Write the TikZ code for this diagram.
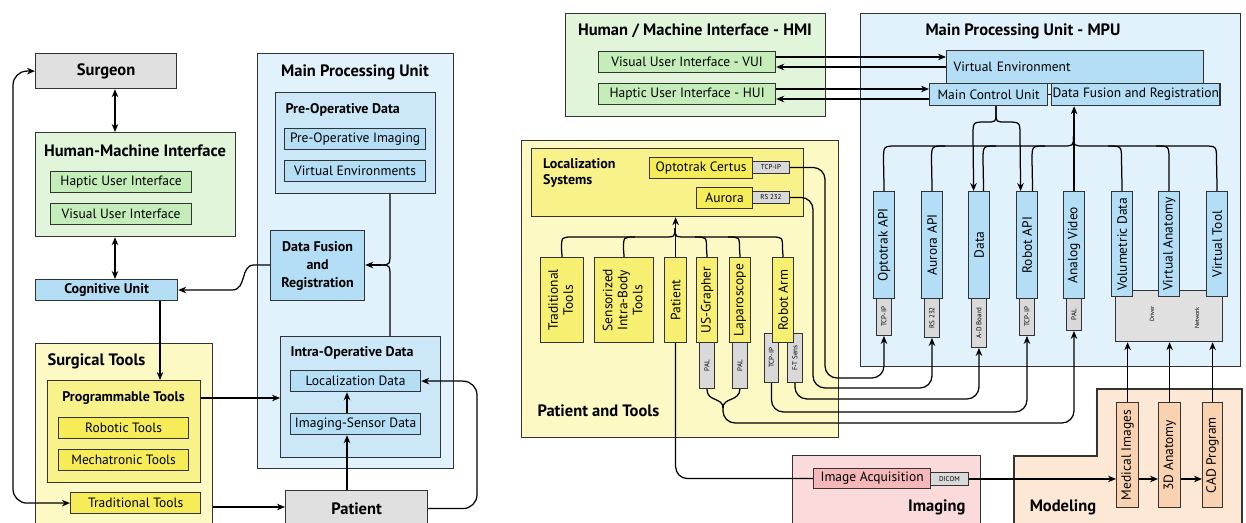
\documentclass[tikz,border=0pt]{standalone}
\usepackage{fontspec}
\setmainfont{PT Sans}
\usetikzlibrary{arrows.meta}
\definecolor{lgreen}{HTML}{E0F5D9}
\definecolor{green2}{HTML}{C4EDBA}
\definecolor{lblue}{HTML}{E2F2FC}
\definecolor{blue2}{HTML}{CBE7F8}
\definecolor{blue3}{HTML}{B4DDF6}
\definecolor{lyellow}{HTML}{FCF9C4}
\definecolor{yellow2}{HTML}{F9F28A}
\definecolor{yellow3}{HTML}{F5EC58}
\definecolor{yellowv}{HTML}{F6EF72}
\definecolor{gry}{HTML}{E0E0E0}
\definecolor{tgray}{HTML}{D9D9D9}
\definecolor{pink1}{HTML}{FADADA}
\definecolor{pink2}{HTML}{F5B8B8}
\definecolor{peach1}{HTML}{FDE8D6}
\definecolor{peach2}{HTML}{F9D2B1}
\definecolor{edge}{HTML}{333333}
\begin{document}
\begin{tikzpicture}[x=1pt,y=-1pt,
  >={Stealth[length=8pt,width=6.5pt]},
  bx/.style={draw=edge, line width=1.2pt, inner sep=1pt, anchor=north west, align=center},
  ln/.style={line width=1.25pt, black},
  f14/.style={font=\fontsize{13.5}{16}\selectfont},
  b14/.style={font=\bfseries\fontsize{14}{17}\selectfont},
  b16/.style={font=\bfseries\fontsize{16.5}{19}\selectfont},
  htag/.style={bx, fill=tgray, line width=0.9pt, font=\fontsize{7}{8}\selectfont},
  vtag/.style={bx, fill=tgray, line width=0.9pt, minimum width=15pt, font=\fontsize{7}{8}\selectfont},
  vb/.style={bx, fill=blue3, f14, minimum width=21pt, minimum height=107pt},
  yv/.style={bx, fill=yellowv, f14, minimum height=85pt},
  pv/.style={bx, fill=peach2, f14, minimum height=105pt}
]
\useasboundingbox (0,0) rectangle (1246,522);
\fill[white] (0,0) rectangle (1246,522);

%================ LEFT DIAGRAM =================
\node[bx, fill=gry, b16, minimum width=141pt, minimum height=35pt] (surgeon) at (35,53) {Surgeon};
\node[bx, fill=lgreen, minimum width=200pt, minimum height=104pt] (hmi) at (35,132) {};
\node[b16] (hmit) at (135,151) {Human-Machine Interface};
\node[bx, fill=green2, f14, minimum width=141pt, minimum height=21pt] (hui) at (50,171) {Haptic User Interface};
\node[bx, fill=green2, f14, minimum width=141pt, minimum height=21pt] (vui) at (50,203) {Visual User Interface};
\node[bx, fill=blue3, b14, minimum width=142pt, minimum height=21pt] (cog) at (35,279) {Cognitive Unit};

\node[bx, fill=lyellow, minimum width=177pt, minimum height=195pt] (surg) at (35,343) {};
\node[b16, anchor=west] (surgt) at (44,361) {Surgical Tools};
\node[bx, fill=yellow2, minimum width=153pt, minimum height=102pt] (prog) at (47,380) {};
\node[b14] (progt) at (123.5,398) {Programmable Tools};
\node[bx, fill=yellow3, f14, minimum width=130pt, minimum height=21pt] (robotic) at (58,417) {Robotic Tools};
\node[bx, fill=yellow3, f14, minimum width=130pt, minimum height=21pt] (mech) at (58,449) {Mechatronic Tools};
\node[bx, fill=yellow3, f14, minimum width=130pt, minimum height=21pt] (tradL) at (70,492) {Traditional Tools};

\node[bx, fill=lblue, minimum width=196pt, minimum height=415pt] (mpuL) at (257,53) {};
\node[b16] (mpuLt) at (355,72) {Main Processing Unit};
\node[bx, fill=blue2, minimum width=160pt, minimum height=101pt] (pre) at (275,92) {};
\node[b14, anchor=west] (pret) at (282,110) {Pre-Operative Data};
\node[bx, fill=blue3, f14, minimum width=141pt, minimum height=21pt] (preimg) at (284,128) {Pre-Operative Imaging};
\node[bx, fill=blue3, f14, minimum width=141pt, minimum height=21pt] (virtenvL) at (284,160) {Virtual Environments};
\node[bx, fill=blue3, font=\bfseries\fontsize{14}{18}\selectfont, minimum width=94pt, minimum height=70pt] (dfL) at (270,230) {Data Fusion\\and\\Registration};
\node[bx, fill=blue2, minimum width=160pt, minimum height=121pt] (intra) at (280,336) {};
\node[b14, anchor=west] (intrat) at (287,353) {Intra-Operative Data};
\node[bx, fill=blue3, f14, minimum width=130pt, minimum height=21pt] (loc) at (290,370) {Localization Data};
\node[bx, fill=blue3, f14, minimum width=130pt, minimum height=21pt] (imgsens) at (290,413) {Imaging-Sensor Data};
\node[bx, fill=gry, b16, minimum width=142pt, minimum height=36pt] (patL) at (285,490) {Patient};

% connectors left
\draw[ln,<->] (115,0 |- surgeon.south) -- (115,0 |- hmi.north);
\draw[ln,<->] (115,0 |- hmi.south) -- (115,0 |- cog.north);
\draw[ln,->] (160,0 |- cog.south) -- (160,0 |- prog.north);
\draw[ln,->] (prog.east |- 0,398) -- (intra.west |- 0,398);
\draw[ln,->] (surg.east |- 0,507) -- (patL.west |- 0,507);
\draw[ln,<->,rounded corners=14pt] (surgeon.west) -| (13,300) |- (tradL.west);
\draw[ln] (390,0 |- pre.south) -- (390,252) .. controls (390,265) .. (380,265);
\draw[ln] (390,0 |- intra.north) -- (390,278) .. controls (390,265) .. (380,265);
\draw[ln,->] (381,265) -- (dfL.east |- 0,265);
\draw[ln,->] (dfL.west |- 0,265) -- (254,265) .. controls (240,265) and (247,290) .. (232,290) -- (cog.east |- 0,290);
\draw[ln,->] (347,0 |- imgsens.north) -- (347,0 |- loc.south);
\draw[ln,->] (347,0 |- patL.north) -- (347,0 |- imgsens.south);
\draw[ln,->,rounded corners=14pt] (patL.east) -| (477,440) |- (loc.east);

%================ RIGHT DIAGRAM =================
\node[bx, fill=lgreen, minimum width=260pt, minimum height=103pt] (hmiR) at (565,13) {};
\node[b16] (hmiRt) at (695,31) {Human / Machine Interface - HMI};
\node[bx, fill=green2, f14, minimum width=177pt, minimum height=21pt] (vuiR) at (598,51) {Visual User Interface - VUI};
\node[bx, fill=green2, f14, minimum width=177pt, minimum height=21pt] (huiR) at (598,83) {Haptic User Interface - HUI};

\node[bx, fill=lblue, minimum width=380pt, minimum height=353pt] (mpuR) at (860,13) {};
\node[b16] (mpuRt) at (1023,31) {Main Processing Unit - MPU};
\node[bx, fill=blue3, f14, minimum width=257pt, minimum height=33pt, text width=243pt, align=left] (ve) at (946,50) {Virtual Environment};
\node[bx, fill=blue3, f14, minimum width=118pt, minimum height=22pt] (mcu) at (929,83) {Main Control Unit};
\node[bx, fill=blue3, f14, minimum width=166pt, minimum height=22pt] (dfR) at (1051,83) {Data Fusion and Registration};
\draw[ln] (mcu.east) -- (dfR.west);

\draw[ln,->] (vuiR.east |- 0,57) -- (ve.west |- 0,57);
\draw[ln,<-] (vuiR.east |- 0,67) -- (ve.west |- 0,67);
\draw[ln,->] (huiR.east |- 0,89) -- (mcu.west |- 0,89);
\draw[ln,<-] (huiR.east |- 0,99) -- (mcu.west |- 0,99);

\node[bx, fill=gry, minimum width=107pt, minimum height=51pt] (drv) at (1115,290) {};
\node[font=\fontsize{6}{7}\selectfont] (drvt) at (1152,314) {\rotatebox{90}{Driver}};
\node[font=\fontsize{6}{7}\selectfont] (nett) at (1197,318) {\rotatebox{90}{Network}};

\node[vb] (optAPI) at (873,191) {\rotatebox{90}{Optotrak API}};
\node[vb] (aurAPI) at (921,191) {\rotatebox{90}{Aurora API}};
\node[vb] (dataB) at (968,191) {\rotatebox{90}{Data}};
\node[vb] (robAPI) at (1016,191) {\rotatebox{90}{Robot API}};
\node[vb] (anaV) at (1063,191) {\rotatebox{90}{Analog Video}};
\node[vb, minimum height=105pt] (volD) at (1111,191) {\rotatebox{90}{Volumetric Data}};
\node[vb, minimum height=105pt] (vAna) at (1158,191) {\rotatebox{90}{Virtual Anatomy}};
\node[vb, minimum height=105pt] (vTool) at (1206,191) {\rotatebox{90}{Virtual Tool}};

\node[vtag, minimum height=37pt] (optT) at (876,298) {\rotatebox{90}{TCP-IP}};
\node[vtag, minimum height=39pt] (aurT) at (924,298) {\rotatebox{90}{RS 232}};
\node[vtag, minimum height=49pt] (adT) at (971,298) {\rotatebox{90}{A-D Board}};
\node[vtag, minimum height=37pt] (robT) at (1019,298) {\rotatebox{90}{TCP-IP}};
\node[vtag, minimum height=32pt] (palT) at (1066,298) {\rotatebox{90}{PAL}};

% MPU bus
\draw[ln] (optAPI.north) -- (883.5,160) .. controls (883.5,146) .. (897,146) -- (1062,146) .. controls (1073.5,146) .. (1073.5,136);
\draw[ln] (aurAPI.north) -- (931.5,160) .. controls (931.5,146) .. (945,146);
\draw[ln] ([xshift=4.5pt]dataB.north) -- (983,160) .. controls (983,146) .. (996,146);
\draw[ln] ([xshift=5.5pt]robAPI.north) -- (1032,160) .. controls (1032,146) .. (1045,146);
\draw[ln] (vTool.north) -- (1216.5,160) .. controls (1216.5,146) .. (1203,146) -- (1085,146) .. controls (1073.5,146) .. (1073.5,136);
\draw[ln] (vAna.north) -- (1169,160) .. controls (1169,146) .. (1156,146);
\draw[ln] (volD.north) -- (1121.5,160) .. controls (1121.5,146) .. (1108,146);
\draw[ln,->] (anaV.north) -- (anaV.north |- dfR.south);
% MCU brace
\draw[ln,->] (996,0 |- mcu.south) -- (996,113) .. controls (996,122) .. (986,122) .. controls (973,122) .. (973,135) -- ([xshift=-5.5pt]dataB.north);
\draw[ln,->] (996,0 |- mcu.south) -- (996,113) .. controls (996,122) .. (1006,122) .. controls (1020,122) .. (1020,135) -- ([xshift=-6.5pt]robAPI.north);

% Patient and Tools
\node[bx, fill=lyellow, minimum width=317pt, minimum height=297pt] (pt) at (521,140) {};
\node[b16, anchor=west] (ptt) at (534,411) {Patient and Tools};
\node[bx, fill=yellow2, minimum width=272pt, minimum height=68pt] (locsys) at (531,148) {};
\node[font=\bfseries\fontsize{14}{16.5}\selectfont, anchor=north west, align=left, inner sep=0pt] (locsyst) at (543,158) {Localization\\Systems};
\node[bx, fill=yellow3, f14, minimum width=103pt, minimum height=21pt] (optC) at (649,157) {Optotrak Certus};
\node[htag, minimum width=37pt, minimum height=12pt] (optCT) at (752,161) {TCP-IP};
\node[bx, fill=yellow3, f14, minimum width=56pt, minimum height=21pt] (aur) at (696,187) {Aurora};
\node[htag, minimum width=37pt, minimum height=12pt] (aurCT) at (752,191) {RS 232};

\node[yv, minimum width=43pt] (trad) at (540,257) {\rotatebox{90}{\begin{tabular}{@{}c@{}}Traditional\\[-1pt]Tools\end{tabular}}};
\node[yv, minimum width=59pt] (sens) at (594,257) {\rotatebox{90}{\begin{tabular}{@{}c@{}}Sensorized\\[-1pt]Intra-Body\\[-1pt]Tools\end{tabular}}};
\node[yv, minimum width=22pt] (pat) at (664,257) {\rotatebox{90}{Patient}};
\node[yv, minimum width=21pt] (usg) at (696,257) {\rotatebox{90}{US-Grapher}};
\node[yv, minimum width=21pt] (lap) at (729,257) {\rotatebox{90}{Laparoscope}};
\node[vtag, minimum width=14pt, minimum height=49pt] (rtcp) at (764,333) {\rotatebox{90}{TCP-IP}};
\node[vtag, minimum height=49pt] (rft) at (787,333) {\rotatebox{90}{F-T Sens}};
\node[yv, minimum width=21pt] (rob) at (772,257) {\rotatebox{90}{Robot Arm}};
\node[vtag, minimum height=46pt] (usgT) at (699,342) {\rotatebox{90}{PAL}};
\node[vtag, minimum height=46pt] (lapT) at (732,342) {\rotatebox{90}{PAL}};

% yellow bus
\draw[ln] (trad.north) -- (561.5,249) .. controls (561.5,237) .. (573,237) -- (663,237) .. controls (675,237) .. (675,228);
\draw[ln] (sens.north) -- (623.5,249) .. controls (623.5,237) .. (635,237);
\draw[ln] (rob.north) -- (782.5,249) .. controls (782.5,237) .. (771,237) -- (687,237) .. controls (675,237) .. (675,228);
\draw[ln] (usg.north) -- (706.5,249) .. controls (706.5,237) .. (695,237);
\draw[ln] (lap.north) -- (739.5,249) .. controls (739.5,237) .. (728,237);
\draw[ln,->] (pat.north) -- (pat.north |- locsys.south);

% Imaging
\node[bx, fill=pink1, minimum width=188pt, minimum height=75pt] (imaging) at (792,455) {};
\node[b16, anchor=east] (imagingt) at (969,507) {Imaging};
\node[bx, fill=pink2, f14, minimum width=117pt, minimum height=20pt] (imgacq) at (813,468) {Image Acquisition};
\node[htag, minimum width=38pt, minimum height=13pt] (dicom) at (930,472) {DICOM};

% Modeling
\draw[fill=peach1, draw=edge, line width=1.2pt] (1014,530) -- (1014,456) -- (1097,456) -- (1097,389) -- (1242,389) -- (1242,530) -- cycle;
\node[b16] (modt) at (1063,507) {Modeling};
\node[pv, minimum width=22pt] (medimg) at (1116,402) {\rotatebox{90}{Medical Images}};
\node[pv, minimum width=22pt] (anat) at (1158,402) {\rotatebox{90}{3D Anatomy}};
\node[pv, minimum width=20pt] (cad) at (1202,402) {\rotatebox{90}{CAD Program}};

% tag connectors
\draw[ln,->,rounded corners=12pt] (optCT.east) -| (825,378) -| (optT.south);
\draw[ln,->,rounded corners=12pt] (aurCT.east) -| (813,388) -| (aurT.south);
\draw[ln,->,rounded corners=12pt] (rft.south) |- (900,399) -| (adT.south);
\draw[ln,->,rounded corners=12pt] (rtcp.south) |- (900,412) -| (robT.south);
\draw[ln] (usgT.south) .. controls (706.5,402) and (723,397) .. (723,408);
\draw[ln] (lapT.south) .. controls (739.5,402) and (723,397) .. (723,408);
\draw[ln,->,rounded corners=12pt] (723,407) |- (950,423) -| (palT.south);
\draw[ln,rounded corners=12pt] (pat.south) |- (imgacq.west);

\draw[ln,->] (dicom.east) -- (medimg.west |- dicom.east);
\draw[ln,->] (medimg.east |- 0,479) -- (anat.west |- 0,479);
\draw[ln,->] (anat.east |- 0,479) -- (cad.west |- 0,479);
\draw[ln,->] (medimg.north) -- (medimg.north |- drv.south);
\draw[ln,->] (anat.north) -- (anat.north |- drv.south);
\draw[ln,->] (cad.north) -- (cad.north |- drv.south);
\end{tikzpicture}
\end{document}
